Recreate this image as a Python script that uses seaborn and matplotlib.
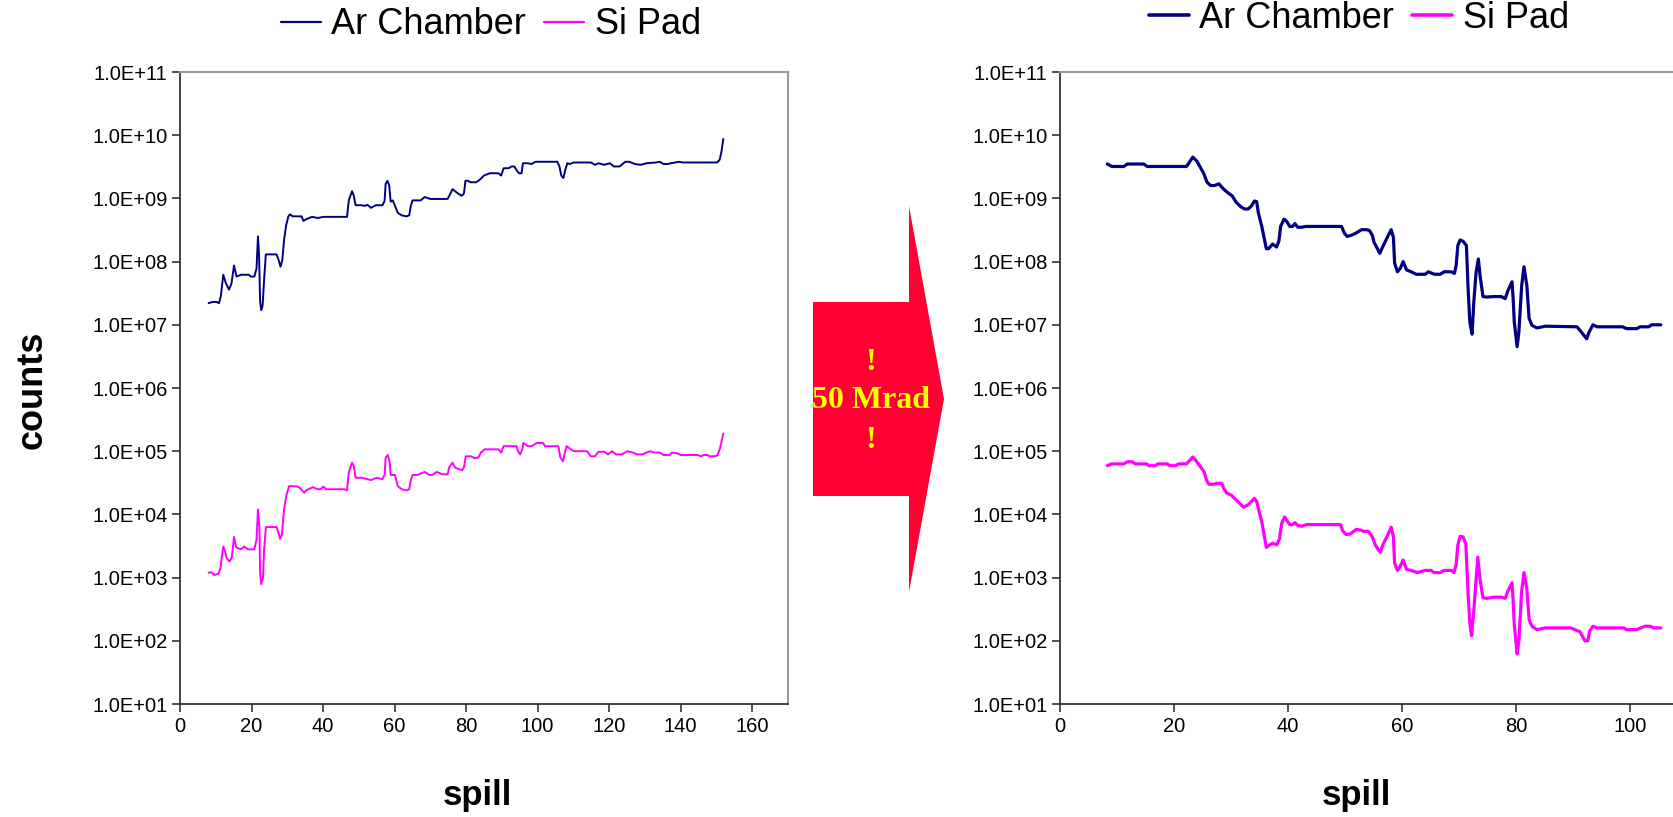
import matplotlib
matplotlib.use("Agg")
import matplotlib.pyplot as plt
import pandas as pd
import seaborn as sns
from matplotlib.lines import Line2D
from matplotlib.patches import Polygon
from matplotlib.ticker import FixedLocator, FuncFormatter, NullLocator

sns.set_theme(style="white")
plt.rcParams["font.family"] = ["Liberation Sans", "DejaVu Sans"]
plt.rcParams["text.color"] = "black"
plt.rcParams["axes.labelcolor"] = "black"
plt.rcParams["xtick.color"] = "black"
plt.rcParams["ytick.color"] = "black"

# ---------------- data: before irradiation (left panel) ----------------
pre_ar_spill = [8.0, 9.1, 10.2, 10.9, 11.4, 12.1, 12.8, 13.7, 14.4, 15.1, 15.8, 17.1, 19.2, 19.8,
                20.8, 21.4, 21.8, 22.1, 22.4, 22.7, 23.1, 23.5, 24.0, 25.3, 27.0, 27.6, 28.1, 28.6,
                29.1, 29.7, 30.3, 30.8, 31.5, 34.0, 34.5, 35.3, 36.9, 38.5, 40.1, 46.7, 47.2, 48.1,
                48.6, 49.1, 50.8, 51.6, 52.4, 53.4, 54.8, 56.6, 57.2, 57.5, 58.0, 58.5, 58.9, 59.5,
                60.2, 60.9, 62.0, 63.3, 64.1, 64.5, 65.0, 67.3, 68.4, 70.0, 74.8, 75.3, 76.2, 76.9,
                77.7, 78.8, 79.4, 79.8, 80.5, 81.2, 82.8, 83.7, 85.0, 86.6, 89.0, 89.8, 90.5, 91.9,
                92.7, 93.5, 94.1, 94.8, 95.5, 95.9, 97.3, 98.3, 99.4, 101.0, 105.5, 106.1, 106.6,
                107.2, 107.7, 108.3, 109.0, 110.1, 114.9, 116.0, 117.0, 118.6, 120.2, 121.3, 122.9,
                124.5, 125.6, 127.2, 128.8, 130.4, 133.1, 134.1, 135.2, 136.3, 137.3, 139.5, 140.6,
                150.2, 150.9, 151.4, 151.9]
pre_ar_counts = [2.2e7, 2.3e7, 2.3e7, 2.2e7, 2.8e7, 6.2e7, 4.6e7, 3.6e7, 4.5e7, 8.7e7, 5.8e7, 6.2e7,
                 6.2e7, 5.8e7, 5.8e7, 7.8e7, 2.5e8, 1.3e8, 2.4e7, 1.7e7, 2.0e7, 5.0e7, 1.3e8, 1.3e8,
                 1.3e8, 1.05e8, 8.3e7, 1.05e8, 2.2e8, 3.8e8, 5.2e8, 5.6e8, 5.2e8, 5.2e8, 4.4e8, 4.7e8,
                 5.1e8, 4.9e8, 5.1e8, 5.1e8, 9.3e8, 1.3e9, 1.1e9, 7.8e8, 7.8e8, 7.6e8, 7.9e8, 7.1e8,
                 7.8e8, 7.8e8, 9.1e8, 1.7e9, 1.9e9, 1.6e9, 8.9e8, 9.3e8, 7.4e8, 5.9e8, 5.4e8, 5.2e8,
                 5.4e8, 7.4e8, 9.3e8, 9.3e8, 1.05e9, 9.8e8, 9.8e8, 1.1e9, 1.4e9, 1.3e9, 1.2e9, 1.1e9,
                 1.2e9, 1.9e9, 1.9e9, 1.8e9, 1.8e9, 1.95e9, 2.3e9, 2.5e9, 2.5e9, 2.3e9, 3.0e9, 3.0e9,
                 3.2e9, 3.2e9, 2.8e9, 2.5e9, 2.5e9, 3.6e9, 3.6e9, 3.5e9, 3.8e9, 3.8e9, 3.8e9, 3.2e9,
                 2.3e9, 2.1e9, 2.8e9, 3.6e9, 3.5e9, 3.7e9, 3.7e9, 3.4e9, 3.6e9, 3.4e9, 3.6e9, 3.2e9,
                 3.2e9, 3.8e9, 3.8e9, 3.5e9, 3.4e9, 3.6e9, 3.7e9, 3.8e9, 3.5e9, 3.5e9, 3.6e9, 3.8e9,
                 3.7e9, 3.7e9, 4.1e9, 5.5e9, 8.7e9]

pre_si_spill = [8.0, 8.9, 9.6, 10.7, 11.3, 12.1, 12.6, 13.1, 13.9, 14.5, 15.1, 15.7, 17.1, 17.9,
                19.0, 20.8, 21.4, 21.8, 22.2, 22.4, 22.7, 23.2, 23.5, 24.0, 25.3, 27.0, 27.6, 28.0,
                28.5, 29.1, 29.7, 30.5, 31.3, 33.1, 34.0, 34.7, 35.3, 37.1, 38.5, 39.3, 40.1, 40.8,
                46.0, 46.7, 47.2, 48.1, 48.6, 49.1, 50.8, 52.4, 53.4, 55.0, 56.6, 57.2, 57.5, 58.1,
                58.6, 58.9, 60.1, 60.9, 62.0, 63.4, 64.1, 64.5, 65.0, 66.3, 68.4, 69.8, 70.5, 71.8,
                73.4, 74.8, 75.3, 76.2, 76.9, 78.0, 78.9, 79.4, 79.9, 81.4, 82.3, 83.4, 84.1, 85.2,
                89.0, 89.8, 90.5, 91.7, 93.0, 94.1, 94.6, 95.1, 95.7, 96.0, 97.3, 98.3, 99.7, 101.5,
                102.1, 105.8, 106.3, 107.1, 107.6, 108.1, 109.0, 110.1, 113.8, 114.9, 116.0, 117.0,
                118.6, 119.7, 120.8, 121.9, 123.5, 125.1, 126.7, 127.7, 129.3, 130.4, 131.5, 132.5,
                134.1, 135.2, 136.8, 137.6, 138.9, 140.0, 144.8, 145.7, 146.4, 147.5, 148.0, 149.1,
                150.2, 150.9, 151.4, 151.9]
pre_si_counts = [1.2e3, 1.2e3, 1.1e3, 1.15e3, 1.4e3, 3.1e3, 2.6e3, 2.0e3, 1.8e3, 2.1e3, 4.4e3, 3.0e3,
                 2.8e3, 3.1e3, 2.8e3, 2.8e3, 4.0e3, 1.2e4, 6.5e3, 1.2e3, 7.9e2, 9.8e2, 2.6e3, 6.3e3,
                 6.3e3, 6.3e3, 5.0e3, 4.1e3, 4.8e3, 1.2e4, 1.95e4, 2.8e4, 2.8e4, 2.75e4, 2.45e4,
                 2.2e4, 2.4e4, 2.7e4, 2.5e4, 2.5e4, 2.75e4, 2.5e4, 2.5e4, 2.4e4, 4.6e4, 6.6e4, 5.8e4,
                 3.8e4, 3.8e4, 3.6e4, 3.5e4, 3.8e4, 3.6e4, 4.2e4, 7.9e4, 8.7e4, 6.9e4, 4.2e4, 4.2e4,
                 2.8e4, 2.5e4, 2.4e4, 2.5e4, 3.4e4, 4.2e4, 4.2e4, 4.7e4, 4.2e4, 4.2e4, 4.7e4, 4.3e4,
                 4.3e4, 5.6e4, 6.6e4, 5.5e4, 5.2e4, 5.0e4, 5.6e4, 8.3e4, 8.3e4, 7.8e4, 7.9e4, 9.5e4,
                 1.07e5, 1.07e5, 9.5e4, 1.2e5, 1.2e5, 1.2e5, 1.2e5, 9.8e4, 8.9e4, 1.07e5, 1.35e5,
                 1.2e5, 1.2e5, 1.35e5, 1.35e5, 1.2e5, 1.2e5, 8.1e4, 6.9e4, 9.5e4, 1.2e5, 1.1e5, 1.0e5,
                 1.0e5, 8.3e4, 8.3e4, 9.8e4, 9.8e4, 8.9e4, 1.0e5, 8.9e4, 8.9e4, 1.0e5, 9.5e4, 8.9e4,
                 8.9e4, 9.5e4, 1.0e5, 9.5e4, 9.5e4, 8.7e4, 8.7e4, 9.5e4, 9.3e4, 8.7e4, 8.7e4, 8.3e4,
                 8.7e4, 8.7e4, 8.3e4, 8.3e4, 8.5e4, 1.07e5, 1.4e5, 1.9e5]

# ---------------- data: after 50 Mrad (right panel) ----------------
post_ar_spill = [8.3, 9.1, 11.2, 11.8, 14.7, 15.3, 22.2, 23.3, 24.0, 25.2, 25.8, 26.4, 27.1, 27.9,
                 28.4, 28.9, 29.6, 30.2, 30.9, 31.7, 32.4, 33.0, 33.6, 34.1, 34.5, 34.8, 35.4, 36.2,
                 36.6, 37.3, 38.0, 38.4, 38.7, 39.3, 39.8, 40.3, 40.8, 41.2, 41.7, 42.4, 43.1, 49.4,
                 49.9, 50.4, 51.0, 51.7, 52.9, 53.8, 54.3, 54.8, 55.1, 55.7, 56.1, 56.6, 57.3, 58.1,
                 58.5, 58.7, 59.2, 59.7, 60.2, 60.8, 61.6, 62.5, 64.1, 64.6, 65.7, 66.7, 67.4, 68.6,
                 69.2, 69.5, 69.8, 70.2, 70.7, 71.3, 71.6, 71.9, 72.3, 72.6, 73.0, 73.4, 73.7, 74.2,
                 74.9, 76.2, 77.4, 78.1, 78.6, 79.3, 79.5, 79.7, 80.2, 80.5, 81.0, 81.4, 81.9, 82.3,
                 82.8, 83.7, 85.1, 90.7, 91.4, 92.4, 92.8, 93.5, 94.2, 98.7, 99.4, 101.2, 101.8,
                 103.3, 103.8, 105.4]
post_ar_counts = [3.5e9, 3.2e9, 3.2e9, 3.5e9, 3.5e9, 3.2e9, 3.2e9, 4.5e9, 3.9e9, 2.5e9, 1.8e9, 1.6e9,
                  1.6e9, 1.7e9, 1.5e9, 1.35e9, 1.2e9, 1.1e9, 8.7e8, 7.4e8, 6.8e8, 6.8e8, 7.6e8, 9.1e8,
                  8.9e8, 5.9e8, 3.6e8, 1.6e8, 1.6e8, 1.9e8, 1.7e8, 2.1e8, 3.6e8, 4.7e8, 4.3e8, 3.6e8,
                  3.6e8, 4.0e8, 3.5e8, 3.5e8, 3.6e8, 3.6e8, 2.8e8, 2.5e8, 2.6e8, 2.75e8, 3.2e8, 3.2e8,
                  3.1e8, 2.6e8, 2.0e8, 1.6e8, 1.35e8, 1.7e8, 2.3e8, 3.2e8, 2.4e8, 9.5e7, 6.9e7, 7.8e7,
                  1.0e8, 7.4e7, 6.9e7, 6.3e7, 6.3e7, 6.9e7, 6.3e7, 6.3e7, 6.9e7, 6.9e7, 6.5e7, 8.7e7,
                  1.8e8, 2.2e8, 2.1e8, 1.8e8, 3.7e7, 1.1e7, 7.1e6, 2.3e7, 6.8e7, 1.1e8, 6.0e7, 2.8e7,
                  2.75e7, 2.8e7, 2.8e7, 2.6e7, 3.5e7, 4.8e7, 2.6e7, 1.1e7, 4.5e6, 7.6e6, 4.2e7, 8.3e7,
                  4.2e7, 1.26e7, 9.8e6, 8.9e6, 9.5e6, 9.3e6, 7.8e6, 6.0e6, 7.6e6, 1.0e7, 9.3e6, 9.3e6,
                  8.7e6, 8.7e6, 9.3e6, 9.3e6, 1.0e7, 1.0e7]

post_si_spill = [8.3, 9.1, 11.2, 11.8, 12.7, 13.2, 15.2, 15.6, 16.7, 17.2, 18.8, 19.3, 20.3, 20.8,
                 22.2, 23.3, 23.8, 24.7, 25.3, 25.7, 26.1, 27.0, 27.5, 28.4, 28.7, 29.2, 30.1, 30.6,
                 31.5, 32.2, 32.9, 33.6, 34.1, 34.5, 35.4, 36.2, 36.8, 37.3, 38.0, 38.5, 38.9, 39.4,
                 39.9, 40.3, 40.8, 41.2, 41.8, 42.5, 43.2, 49.2, 49.6, 50.2, 50.9, 52.0, 52.9, 53.2,
                 54.1, 54.8, 55.3, 55.8, 56.2, 56.7, 57.4, 58.1, 58.5, 58.7, 59.2, 59.7, 60.2, 60.8,
                 61.6, 62.7, 64.1, 65.1, 65.6, 66.7, 67.4, 68.6, 69.1, 69.5, 69.8, 70.2, 70.7, 71.2,
                 71.6, 71.9, 72.2, 72.6, 73.0, 73.3, 73.7, 74.2, 74.9, 76.2, 77.4, 78.1, 78.6, 79.3,
                 79.5, 79.7, 80.2, 80.5, 81.0, 81.4, 81.9, 82.3, 82.8, 83.7, 85.1, 89.6, 90.3, 91.2,
                 92.1, 92.6, 92.9, 93.5, 94.2, 98.9, 99.4, 101.2, 102.6, 103.6, 104.1, 105.4]
post_si_counts = [5.9e4, 6.3e4, 6.3e4, 6.8e4, 6.8e4, 6.3e4, 6.3e4, 5.9e4, 5.9e4, 6.3e4, 6.3e4, 5.9e4,
                  5.9e4, 6.3e4, 6.3e4, 8.1e4, 7.2e4, 5.6e4, 4.7e4, 3.5e4, 3.0e4, 3.0e4, 3.1e4, 3.1e4,
                  2.6e4, 2.2e4, 2.0e4, 1.8e4, 1.5e4, 1.3e4, 1.4e4, 1.6e4, 1.8e4, 1.6e4, 7.6e3, 3.0e3,
                  3.3e3, 3.5e3, 3.3e3, 4.1e3, 7.2e3, 9.1e3, 7.8e3, 6.9e3, 6.9e3, 7.4e3, 6.6e3, 6.5e3,
                  6.9e3, 6.9e3, 5.5e3, 4.8e3, 4.9e3, 5.8e3, 5.6e3, 5.4e3, 5.4e3, 4.4e3, 3.3e3, 2.8e3,
                  2.5e3, 3.4e3, 4.5e3, 6.3e3, 4.4e3, 1.7e3, 1.3e3, 1.5e3, 1.9e3, 1.35e3, 1.3e3, 1.2e3,
                  1.3e3, 1.3e3, 1.2e3, 1.2e3, 1.3e3, 1.3e3, 1.2e3, 1.6e3, 3.3e3, 4.5e3, 4.4e3, 3.4e3,
                  5.5e2, 1.9e2, 1.2e2, 3.0e2, 9.3e2, 2.1e3, 9.3e2, 4.8e2, 4.7e2, 4.9e2, 4.9e2, 4.7e2,
                  6.2e2, 8.3e2, 4.3e2, 1.8e2, 62, 98, 6.2e2, 1.2e3, 6.6e2, 2.2e2, 1.7e2, 1.5e2, 1.6e2,
                  1.6e2, 1.5e2, 1.4e2, 1.0e2, 1.0e2, 1.4e2, 1.7e2, 1.6e2, 1.6e2, 1.5e2, 1.5e2, 1.7e2,
                  1.7e2, 1.6e2, 1.6e2]

series_names = ["Ar Chamber", "Si Pad"]
decade_ticks = [1e1, 1e2, 1e3, 1e4, 1e5, 1e6, 1e7, 1e8, 1e9, 1e10, 1e11]
pre_xticks = [0, 20, 40, 60, 80, 100, 120, 140, 160]
post_xticks = [0, 20, 40, 60, 80, 100]

AR_COLOR = "#000080"
SI_COLOR = "#FF00FF"
palette = {"Ar Chamber": AR_COLOR, "Si Pad": SI_COLOR}


def long_table(ar_x, ar_y, si_x, si_y):
    a = pd.DataFrame({"spill": ar_x, "counts": ar_y, "detector": series_names[0]})
    s = pd.DataFrame({"spill": si_x, "counts": si_y, "detector": series_names[1]})
    return pd.concat([a, s], ignore_index=True)


W, H = 1674, 817
fig = plt.figure(figsize=(W / 100, H / 100), dpi=100)


def box(left, top, right, bottom):
    return [left / W, 1 - bottom / H, (right - left) / W, (bottom - top) / H]


ax_pre = fig.add_axes(box(180, 72, 788, 704))
# the after-irradiation plot area runs on past the right edge of the figure
ax_post = fig.add_axes(box(1060, 72, 1060 + 120 * 5.70, 704))


def style_axes(ax, xmax, xticks):
    ax.set_yscale("log")
    ax.set_ylim(1e1, 1e11)
    ax.set_xlim(0, xmax)
    ax.yaxis.set_major_locator(FixedLocator(decade_ticks))
    ax.yaxis.set_minor_locator(NullLocator())
    ax.yaxis.set_major_formatter(FuncFormatter(lambda v, _: f"{v:.1E}"))
    ax.xaxis.set_major_locator(FixedLocator(xticks))
    ax.set_xlabel("")
    ax.set_ylabel("")
    ax.grid(False)
    ax.set_facecolor("white")
    for side in ("left", "bottom"):
        ax.spines[side].set_color("#333333")
        ax.spines[side].set_linewidth(1.3)
    for side in ("top", "right"):
        ax.spines[side].set_color("#9a9a9a")
        ax.spines[side].set_linewidth(1.5)
    ax.tick_params(axis="both", which="major", direction="out", length=6, width=1.2,
                   color="#333333", labelsize=14.5, labelcolor="black", pad=3,
                   left=True, bottom=True)


df_pre = long_table(pre_ar_spill, pre_ar_counts, pre_si_spill, pre_si_counts)
df_post = long_table(post_ar_spill, post_ar_counts, post_si_spill, post_si_counts)

sns.lineplot(data=df_pre, x="spill", y="counts", hue="detector", palette=palette,
             estimator=None, sort=False, linewidth=1.4, legend=False, ax=ax_pre)
sns.lineplot(data=df_post, x="spill", y="counts", hue="detector", palette=palette,
             estimator=None, sort=False, linewidth=2.3, legend=False, ax=ax_post)

style_axes(ax_pre, 170, pre_xticks)
style_axes(ax_post, 120, post_xticks)


def add_legend(cx, cy, lw):
    handles = [Line2D([], [], color=AR_COLOR, lw=lw), Line2D([], [], color=SI_COLOR, lw=lw)]
    fig.legend(handles, series_names, loc="center", bbox_to_anchor=(cx / W, 1 - cy / H),
               ncol=2, frameon=False, fontsize=26, handlelength=1.1, handletextpad=0.3,
               columnspacing=0.5, borderpad=0, borderaxespad=0, labelcolor="black")


add_legend(491, 25, 1.6)
add_legend(1359, 18, 2.6)

# axis titles
fig.text(32 / W, 1 - 390 / H, "counts", rotation=90, ha="center", va="center",
         fontsize=26, fontweight="bold", color="black")
fig.text(477 / W, 1 - 795 / H, "spill", ha="center", va="center", fontsize=25,
         fontweight="bold", color="black")
fig.text(1356 / W, 1 - 795 / H, "spill", ha="center", va="center", fontsize=25,
         fontweight="bold", color="black")

# block arrow between the panels
arrow_px = [(813, 302), (909, 302), (909, 206), (944, 399), (909, 592), (909, 496), (813, 496)]
arrow = Polygon([(x / W, 1 - y / H) for x, y in arrow_px], closed=True,
                transform=fig.transFigure, facecolor="#FF0033", edgecolor="none")
fig.patches.append(arrow)
for text, y in (("!", 363), ("50 Mrad", 400), ("!", 440)):
    fig.text(871 / W, 1 - y / H, text, ha="center", va="center", color="#FFFF00",
             fontsize=23, fontweight="bold", family=["Liberation Serif", "DejaVu Serif"])

fig.savefig("out.png", dpi=100, facecolor="white")
